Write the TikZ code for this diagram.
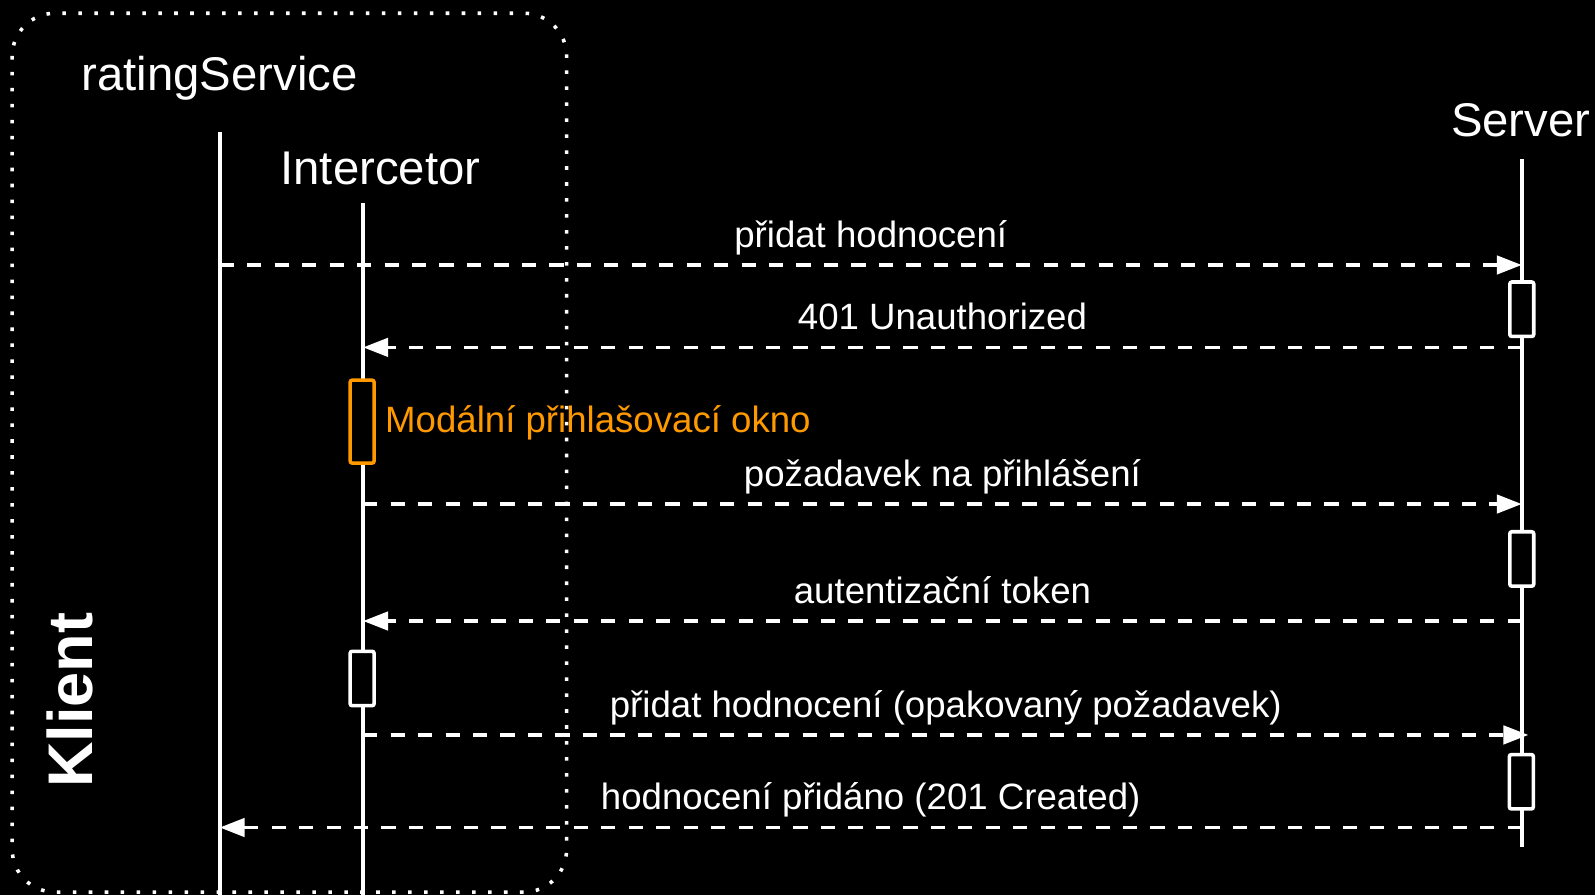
\documentclass[tikz,border=0pt]{standalone}
\usepackage{fontspec}
\setmainfont{Liberation Sans}
\usetikzlibrary{arrows.meta}
\definecolor{modalorange}{RGB}{255,153,0}
\begin{document}
\begin{tikzpicture}
        [x=1pt, y=-1pt,
         head_style/.style={text=white,anchor=base,inner sep=0pt,font=\fontsize{46.5}{56}\selectfont},
         side_style/.style={text=white,anchor=base,inner sep=0pt,rotate=90,font=\bfseries\fontsize{62}{74}\selectfont},
         lifeline_style/.style={draw=white,line width=3.5pt},
         box_style/.style={rectangle,draw=white,fill=black,line width=3.5pt,rounded corners=2pt,minimum width=23.5pt,minimum height=53.5pt,inner sep=0pt},
         box_style_modal/.style={box_style,draw=modalorange,minimum height=81.5pt},
         msg_style/.style={draw=white,line width=3.5pt,dash pattern=on 14pt off 13pt,-{Triangle[length=24.5pt,width=18pt,fill=white]}},
         msg_label/.style={text=white,anchor=base,yshift=17.5pt,inner sep=0pt,font=\fontsize{36}{43}\selectfont},
         modal_label/.style={text=modalorange,anchor=base west,inner sep=0pt,font=\fontsize{36}{43}\selectfont},
         frame_style/.style={draw=white,line width=3.5pt,dash pattern=on 3.5pt off 12.2pt,rounded corners=42pt}]
            \fill[black] (0,0) rectangle (1568,880);
            \useasboundingbox (0,0) rectangle (1568,880);
            \node[head_style] (rs) at (216,88.5) {ratingService};
            \node[head_style] (int) at (374,181) {Intercetor};
            \node[head_style] (srv) at (1495,134.4) {Server};
            \node[side_style] (klient) at (90.5,688.5) {Klient};
            \coordinate (rs_top) at (216,129.5);
            \coordinate (rs_bot) at (216,880);
            \coordinate (int_top) at (357,200);
            \coordinate (int_bot) at (357,880);
            \coordinate (srv_top) at (1496,156.5);
            \coordinate (srv_bot) at (1496,832.5);
            \draw[lifeline_style] (rs_top) -- (rs_bot);
            \draw[lifeline_style] (int_top) -- (int_bot);
            \draw[lifeline_style] (srv_top) -- (srv_bot);
            \coordinate (rs_m1) at (216,260.5);
            \coordinate (srv_m1) at (1496,260.5);
            \coordinate (srv_m2) at (1496,341.5);
            \coordinate (int_m2) at (357,341.5);
            \coordinate (int_m3) at (357,495.5);
            \coordinate (srv_m3) at (1496,495.5);
            \coordinate (srv_m4) at (1496,610.5);
            \coordinate (int_m4) at (357,610.5);
            \coordinate (int_m5) at (357,722.5);
            \coordinate (srv_m5) at (1502.5,722.5);
            \coordinate (srv_m6) at (1496,813.5);
            \coordinate (rs_m6) at (216,813.5);
            \path  (rs_m1) edge[msg_style] node[msg_label]{přidat hodnocení} (srv_m1);
            \path  (srv_m2) edge[msg_style] node[msg_label]{401 Unauthorized} (int_m2);
            \path  (int_m3) edge[msg_style] node[msg_label]{požadavek na přihlášení} (srv_m3);
            \path  (srv_m4) edge[msg_style] node[msg_label]{autentizační token} (int_m4);
            \path  (int_m5) edge[msg_style] node[msg_label]{přidat hodnocení (opakovaný požadavek)} (srv_m5);
            \path  (srv_m6) edge[msg_style] node[msg_label]{hodnocení přidáno (201 Created)} (rs_m6);
            \node[box_style] (srv_box1) at (1496,304) {};
            \node[box_style] (srv_box2) at (1496,549.5) {};
            \node[box_style] (srv_box3) at (1495.6,768.5) {};
            \node[box_style_modal] (int_modal) at (356,414.5) {};
            \node[box_style] (int_box) at (356,667) {};
            \node[modal_label] (modal_text) at (378.5,425.4) {Modální přihlašovací okno};
            \draw[frame_style] (12,13) rectangle (557,877);
        \end{tikzpicture}
\end{document}
